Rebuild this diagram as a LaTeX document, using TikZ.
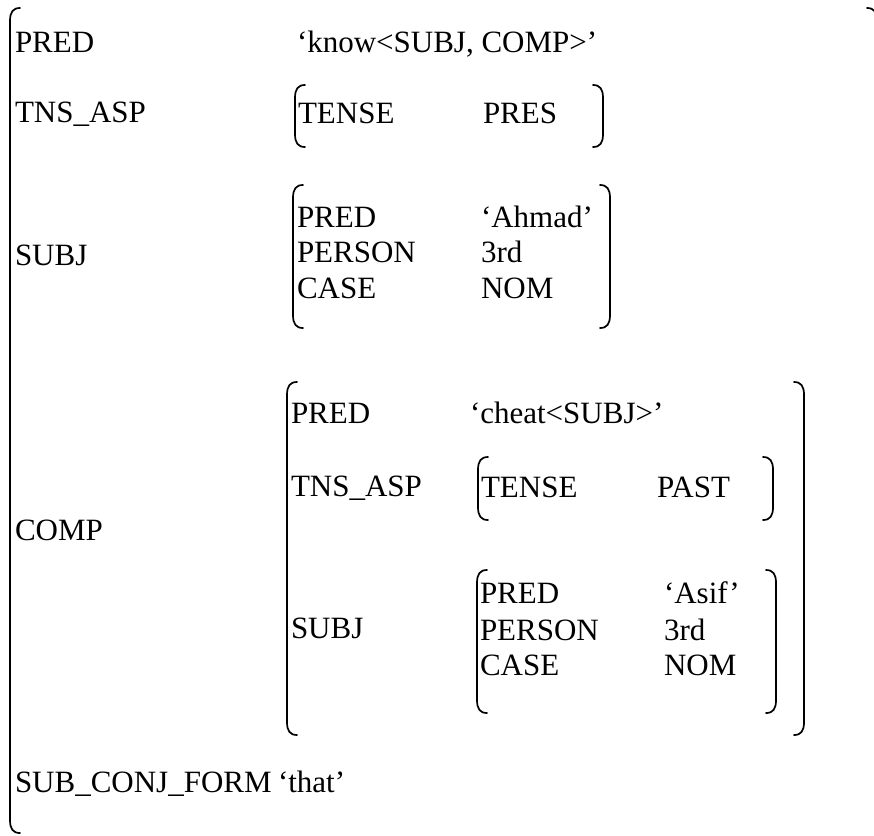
\documentclass[tikz,border=0pt]{standalone}
\usepackage{fontspec}
\setmainfont{Liberation Serif}
\begin{document}
\begin{tikzpicture}[x=1pt,y=-1pt,
  feat/.style={anchor=base west,inner sep=0pt,outer sep=0pt,font=\fontsize{31}{37}\selectfont},
  brk/.style={line width=1.7pt,line cap=round}]
% left bracket: x, top, bottom
\newcommand\fsLeft[3]{\draw[brk] (#1+10,#2) .. controls (#1+3,#2) and (#1,#2+4) .. (#1,#2+13) -- (#1,#3-13) .. controls (#1,#3-4) and (#1+3,#3) .. (#1+10,#3);}
% right bracket: x, top, bottom
\newcommand\fsRight[3]{\draw[brk] (#1-10,#2) .. controls (#1-3,#2) and (#1,#2+4) .. (#1,#2+13) -- (#1,#3-13) .. controls (#1,#3-4) and (#1-3,#3) .. (#1-10,#3);}
\useasboundingbox (0,0) rectangle (874,835);
\begin{scope}
\clip (0,0) rectangle (874,835);
% outermost structure
\fsLeft{10}{8}{833}
\fsRight{877}{8}{860}
\end{scope}

\node[feat] (pred) at (15,52) {PRED};
\node[feat] (predv) at (297,52) {‘know<SUBJ, COMP>’};

\node[feat] (tns) at (15,122) {TNS\_ASP};
\fsLeft{295}{85}{147}
\fsRight{603}{85}{147}
\node[feat] (tense) at (298,123) {TENSE};
\node[feat] (tensev) at (483,123) {PRES};

\node[feat] (subj) at (15,265) {SUBJ};
\fsLeft{293}{185}{328}
\fsRight{610}{185}{328}
\node[feat] (spred) at (297,227) {PRED};
\node[feat] (spredv) at (481,227) {‘Ahmad’};
\node[feat] (sper) at (297,262) {PERSON};
\node[feat] (sperv) at (481,262) {3rd};
\node[feat] (scase) at (297,298) {CASE};
\node[feat] (scasev) at (481,298) {NOM};

\node[feat] (comp) at (15,540) {COMP};
\fsLeft{287}{382}{735}
\fsRight{804}{382}{735}
\node[feat] (cpred) at (291,423) {PRED};
\node[feat] (cpredv) at (470,423) {‘cheat<SUBJ>’};
\node[feat] (ctns) at (291,496) {TNS\_ASP};
\fsLeft{478}{457}{520}
\fsRight{773}{457}{520}
\node[feat] (ctense) at (481,497) {TENSE};
\node[feat] (ctensev) at (657,497) {PAST};
\node[feat] (csubj) at (291,638) {SUBJ};
\fsLeft{477}{570}{713}
\fsRight{776}{570}{713}
\node[feat] (cspred) at (480,603) {PRED};
\node[feat] (cspredv) at (664,603) {‘Asif’};
\node[feat] (csper) at (480,640) {PERSON};
\node[feat] (csperv) at (664,640) {3rd};
\node[feat] (cscase) at (480,675) {CASE};
\node[feat] (cscasev) at (664,675) {NOM};

\node[feat] (scf) at (15,792) {SUB\_CONJ\_FORM};
\node[feat] (scfv) at (278,792) {‘that’};
\end{tikzpicture}
\end{document}
